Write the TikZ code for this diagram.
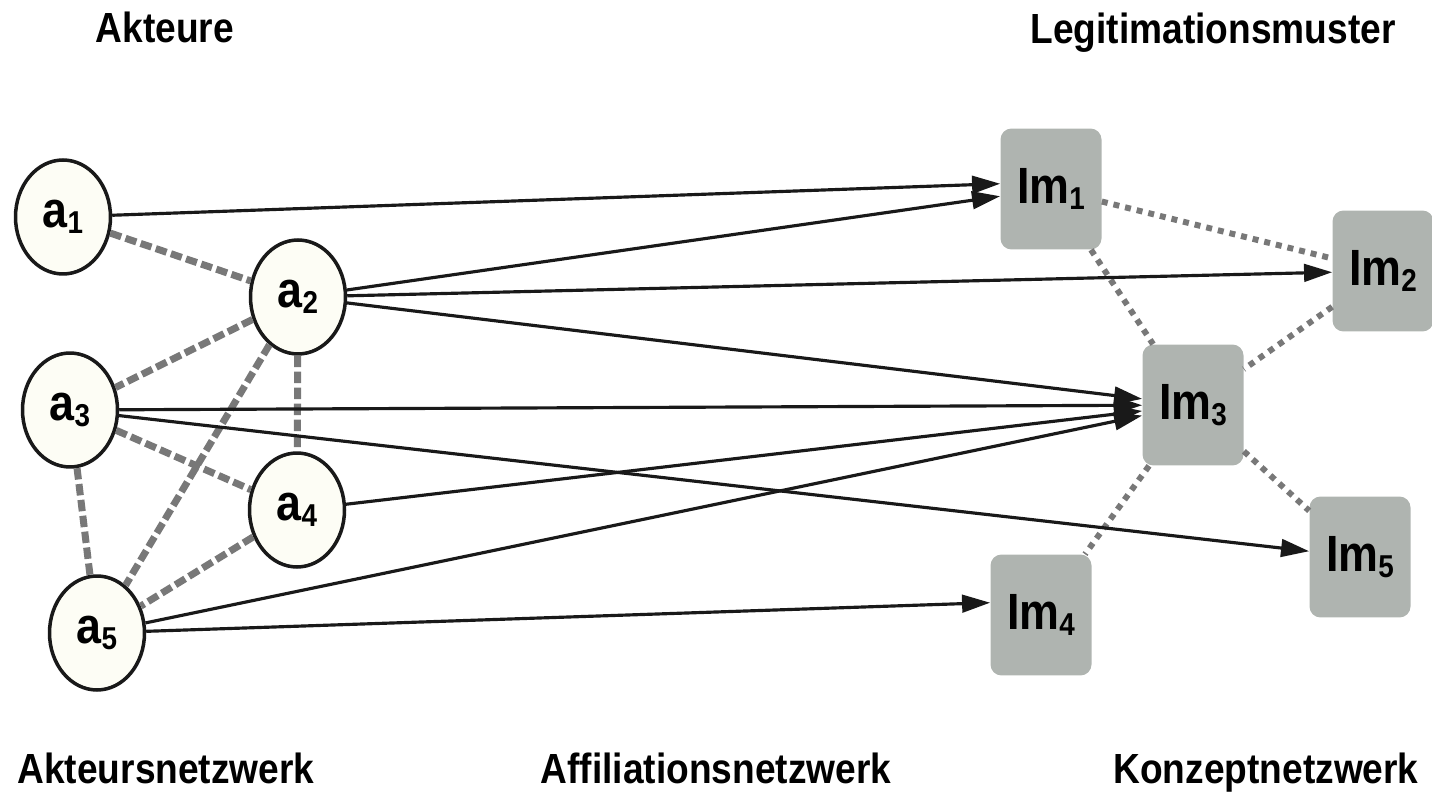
\documentclass[tikz,border=0pt]{standalone}
\usepackage{fontspec}
\setmainfont{Liberation Sans}[FakeStretch=0.88]
\usepackage{tikz}
\usetikzlibrary{arrows.meta}
\usetikzlibrary{shapes.geometric,positioning}
\definecolor{actorfill}{RGB}{253,253,245}
\definecolor{musterfill}{RGB}{175,180,176}
\definecolor{linkgray}{RGB}{120,120,120}
\tikzset{
    % Akteure als Ellipsen
    actor/.style={
        ellipse,
        draw=black!90,
        line width=2pt,
        fill=actorfill,
        minimum width=1.9cm,
        minimum height=2.28cm,
        inner sep=0pt,
        font=\fontsize{29}{30}\selectfont\bfseries
    },
    % Legitimationsmuster als graue Kaesten
    muster/.style={
        rectangle,
        rounded corners=0.22cm,
        fill=musterfill,
        minimum width=2.02cm,
        minimum height=2.42cm,
        inner sep=0pt,
        font=\fontsize{29}{30}\selectfont\bfseries
    },
    heading/.style={
        anchor=base,
        font=\fontsize{24}{26}\selectfont\bfseries
    },
    actorlink/.style={
        line width=4pt,
        linkgray,
        dash pattern=on 6.5pt off 2.6pt
    },
    conceptlink/.style={
        line width=3.4pt,
        linkgray,
        dash pattern=on 3.4pt off 3.4pt
    },
    blackarrow/.style={
        line width=1.8pt,
        black!90,
        -{Triangle[length=16pt, width=10pt]}
    }
}
\newcommand{\idx}[2]{#1\raisebox{-3.6pt}{\fontsize{18}{18}\selectfont #2}}

\begin{document}
\begin{tikzpicture}[x=0.02cm,y=-0.02cm]
    \useasboundingbox (0,0) rectangle (1432,793);

    % ===================== Akteure =====================
    \node[actor] (a1) at (63,217) {\idx{a}{1}};
    \node[actor] (a2) at (298,297) {\idx{a}{2}};
    \node[actor] (a3) at (70,410) {\idx{a}{3}};
    \node[actor] (a4) at (297,510) {\idx{a}{4}};
    \node[actor] (a5) at (97,633) {\idx{a}{5}};

    % ===================== Legitimationsmuster =====================
    \node[muster] (m1) at (1051,189) {\idx{Im}{1}};
    \node[muster] (m2) at (1383,271) {\idx{Im}{2}};
    \node[muster] (m3) at (1193,405) {\idx{Im}{3}};
    \node[muster] (m4) at (1041,615) {\idx{Im}{4}};
    \node[muster] (m5) at (1360,557) {\idx{Im}{5}};

    % Akteursnetzwerk (gestrichelt)
    \draw[actorlink] (a1) -- (a2);
    \draw[actorlink] (a2) -- (a3);
    \draw[actorlink] (a2) -- (a4);
    \draw[actorlink] (a2) -- (a5);
    \draw[actorlink] (a3) -- (a4);
    \draw[actorlink] (a3) -- (a5);
    \draw[actorlink] (a4) -- (a5);

    % Konzeptnetzwerk (gepunktet)
    \draw[conceptlink] (m1) -- (m2);
    \draw[conceptlink] (m1) -- (m3);
    \draw[conceptlink] (m2) -- (m3);
    \draw[conceptlink] (m3) -- (m4);
    \draw[conceptlink] (m3) -- (m5);

    % Affiliationsnetzwerk (Pfeile)
    \draw[blackarrow] (a1) -- ([yshift=3pt]m1.west);
    \draw[blackarrow] (a2) -- (m1);
    \draw[blackarrow] (a2) -- (m2);
    \draw[blackarrow] (a2) -- (m3);
    \draw[blackarrow] (a3) -- (m3);
    \draw[blackarrow] (a3) -- (m5);
    \draw[blackarrow] (a4) -- (m3);
    \draw[blackarrow] (a5) -- (m3);
    \draw[blackarrow] (a5) -- ([yshift=7pt]m4.west);

    % Beschriftungen
    \node[heading] (tAkteure) at (165,43) {Akteure};
    \node[heading] (tMuster) at (1213,44) {Legitimationsmuster};
    \node[heading] (tAktnetz) at (166,783) {Akteursnetzwerk};
    \node[heading] (tAffnetz) at (716,783) {Affiliationsnetzwerk};
    \node[heading] (tKonnetz) at (1266,783) {Konzeptnetzwerk};
\end{tikzpicture}
\end{document}
